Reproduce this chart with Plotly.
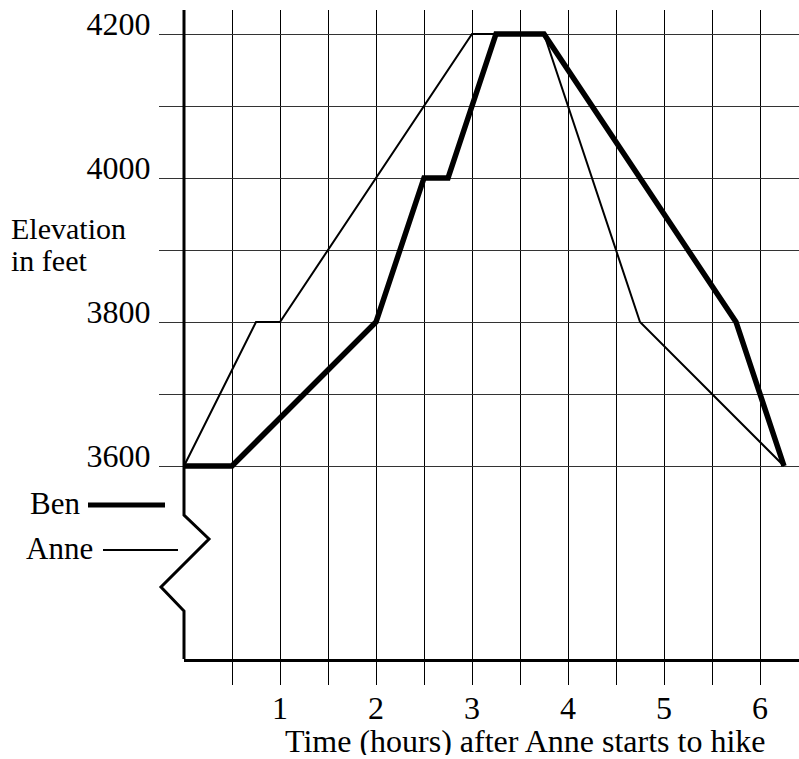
import plotly.graph_objects as go

# ---- data ----
anne_t = [0, 0.75, 1, 3, 3.75, 4.75, 6.25]
anne_e = [3600, 3800, 3800, 4200, 4200, 3800, 3600]
ben_t = [0, 0.5, 2, 2.5, 2.75, 3.25, 3.75, 5.75, 6.25]
ben_e = [3600, 3600, 3800, 4000, 4000, 4200, 4200, 3800, 3600]

x_ticks = [0.5 * i for i in range(1, 13)]
x_labels = [str(int(v)) if v == int(v) else "" for v in x_ticks]
y_ticks = [3600, 3700, 3800, 3900, 4000, 4100, 4200]
y_labels = [str(v) if v % 200 == 0 else "" for v in y_ticks]

W, H = 799, 759
ML, MR, MT, MB = 184, 0, 10, 100
FONT = "Liberation Serif, Times New Roman, serif"

def px(xpix):
    return (xpix - ML) / (W - ML - MR)

def py(ypix):
    return (H - MB - ypix) / (H - MT - MB)

fig = go.Figure()
fig.add_trace(go.Scatter(x=anne_t, y=anne_e, mode="lines",
                         line=dict(color="black", width=2), name="Anne",
                         showlegend=False))
fig.add_trace(go.Scatter(x=ben_t, y=ben_e, mode="lines",
                         line=dict(color="black", width=5.5), name="Ben",
                         showlegend=False))

shapes = []
# broken vertical axis with zigzag
zig = [(184, 10), (184, 515), (209, 539), (161, 587), (184, 611), (184, 659)]
path = "M " + " L ".join(f"{px(a):.5f},{py(b):.5f}" for a, b in zig)
shapes.append(dict(type="path", xref="paper", yref="paper", path=path,
                   line=dict(color="black", width=3)))
# legend glyphs
shapes.append(dict(type="line", xref="paper", yref="paper",
                   x0=px(88), x1=px(165), y0=py(505), y1=py(505),
                   line=dict(color="black", width=5)))
shapes.append(dict(type="line", xref="paper", yref="paper",
                   x0=px(103), x1=px(178), y0=py(550), y1=py(550),
                   line=dict(color="black", width=2)))

def txt(s, x, y, size, xanchor="left", height=None):
    d = dict(text=s, xref="paper", yref="paper", x=px(x), y=py(y),
             xanchor=xanchor, yanchor="middle", showarrow=False,
             font=dict(family=FONT, size=size, color="black"))
    if height:
        d["height"] = height
    return d

annotations = [
    txt("Ben", 28, 503, 31),
    txt("Anne", 24, 548, 31),
    txt("Elevation", 9, 229, 30),
    txt("in feet", 9, 260, 30),
    txt("Time (hours) after Anne starts to hike", 525, 741, 32, "center", 28),
]

top = 4200 + 100 * (34 - MT) / 72.0
bottom = top - 100 * (H - MT - MB) / 72.0

fig.update_layout(
    width=W, height=H,
    margin=dict(l=ML, r=MR, t=MT, b=MB, pad=0),
    paper_bgcolor="white", plot_bgcolor="white",
    shapes=shapes, annotations=annotations,
    font=dict(family=FONT, size=32, color="black"),
    xaxis=dict(range=[0, (W - ML - MR) / 96.0], tickvals=x_ticks, ticktext=x_labels,
               showgrid=True, gridcolor="black", gridwidth=1,
               ticks="outside", ticklen=23, tickcolor="black", tickwidth=1,
               showline=True, linecolor="black", linewidth=3,
               zeroline=False, ticklabelstandoff=-4,
               tickfont=dict(family=FONT, size=32, color="black")),
    yaxis=dict(range=[bottom, top],
               tickvals=y_ticks, ticktext=y_labels,
               showgrid=True, gridcolor="#333333", gridwidth=1,
               ticks="outside", ticklen=24, tickcolor="#333333", tickwidth=1,
               showline=False, zeroline=False, ticklabelstandoff=2,
               ticklabelshift=-10,
               tickfont=dict(family=FONT, size=32, color="black")),
)

fig.write_html("out.html", config={"displayModeBar": False},
               post_script="document.body.style.margin='0px';")
